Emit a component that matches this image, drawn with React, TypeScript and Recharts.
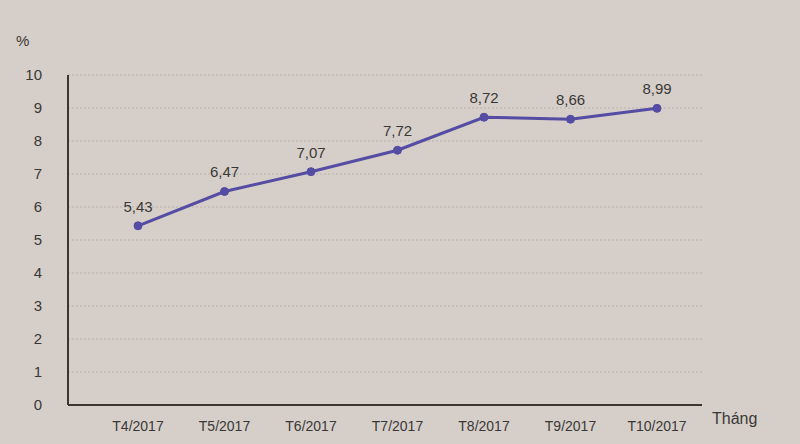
import { LineChart, Line, XAxis, YAxis, CartesianGrid, LabelList } from "recharts";

const months = ["T4/2017", "T5/2017", "T6/2017", "T7/2017", "T8/2017", "T9/2017", "T10/2017"];
const rates = [5.43, 6.47, 7.07, 7.72, 8.72, 8.66, 8.99];
const yTicks = [0, 1, 2, 3, 4, 5, 6, 7, 8, 9, 10];

const BG = "#d6cfc9";
const LINE = "#554ca3";
const TEXT = "#3a3836";
const FONT = "'Liberation Sans', Arial, sans-serif";

const data = months.map((m, i) => ({ month: m, rate: rates[i] }));

function fmt(v: number) {
    return v.toFixed(2).replace(".", ",");
}

export default function App() {
    return (
        <div style={{ position: "absolute", left: 0, top: 0, width: 800, height: 444, background: BG, fontFamily: FONT }}>
            <LineChart width={800} height={444} data={data} margin={{ top: 75, right: 98, bottom: 9, left: 8 }}>
                <CartesianGrid vertical={false} stroke="#b9b2ac" strokeDasharray="2 2" />
                <XAxis
                    dataKey="month"
                    padding={{ left: 70, right: 45 }}
                    height={30}
                    tickLine={false}
                    tickMargin={10}
                    axisLine={{ stroke: "#3a3632", strokeWidth: 2 }}
                    tick={{ fontSize: 14, fill: TEXT, fontFamily: FONT }}
                    interval={0}
                />
                <YAxis
                    domain={[0, 10]}
                    ticks={yTicks}
                    width={60}
                    tickLine={false}
                    tickSize={0}
                    tickMargin={26}
                    axisLine={{ stroke: "#3a3632", strokeWidth: 2 }}
                    tick={{ fontSize: 15, fill: TEXT, fontFamily: FONT }}
                />
                <Line
                    type="linear"
                    dataKey="rate"
                    stroke={LINE}
                    strokeWidth={3}
                    dot={{ r: 4, fill: LINE, stroke: LINE, strokeWidth: 1 }}
                    isAnimationActive={false}
                >
                    <LabelList
                        dataKey="rate"
                        position="top"
                        offset={14}
                        formatter={(v: any) => fmt(Number(v))}
                        style={{ fontSize: 15, fill: TEXT, fontFamily: FONT }}
                    />
                </Line>
            </LineChart>
            <div style={{ position: "absolute", left: 16, top: 32, fontSize: 15, color: TEXT }}>%</div>
            <div style={{ position: "absolute", left: 712, top: 410, fontSize: 16, color: TEXT }}>Tháng</div>
        </div>
    );
}
